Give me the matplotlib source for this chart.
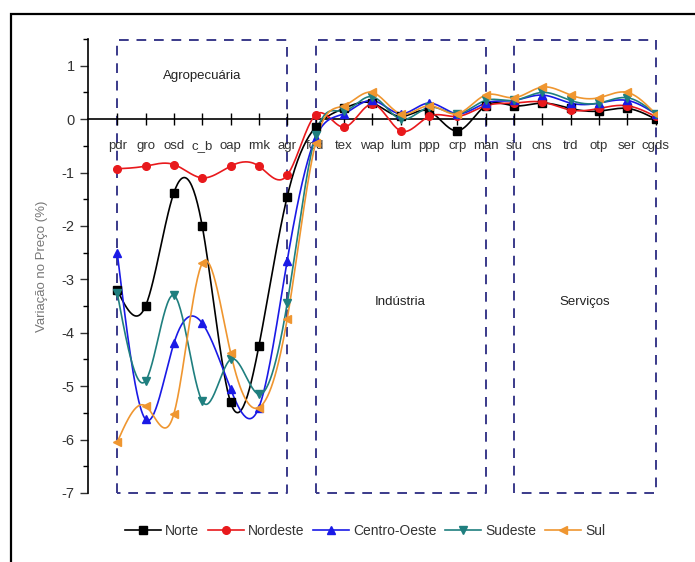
import numpy as np
import matplotlib
matplotlib.use("Agg")
import matplotlib.pyplot as plt
from matplotlib.patches import Rectangle

plt.rcParams["font.family"] = ["Liberation Sans", "DejaVu Sans"]
plt.rcParams["axes.unicode_minus"] = False

categories = ["pdr", "gro", "osd", "c_b", "oap", "rmk", "agr", "fod", "tex", "wap",
              "lum", "ppp", "crp", "man", "siu", "cns", "trd", "otp", "ser", "cgds"]

norte = [-3.2, -3.5, -1.38, -2.0, -5.3, -4.25, -1.45, -0.15, 0.2, 0.3,
         0.05, 0.15, -0.22, 0.25, 0.25, 0.3, 0.2, 0.15, 0.2, 0.0]
nordeste = [-0.93, -0.88, -0.85, -1.1, -0.88, -0.88, -1.05, 0.08, -0.15, 0.28,
            -0.22, 0.05, 0.05, 0.25, 0.3, 0.32, 0.17, 0.2, 0.25, 0.05]
centro_oeste = [-2.5, -5.62, -4.2, -3.82, -5.05, -5.4, -2.65, -0.35, 0.1, 0.35,
                0.1, 0.3, 0.1, 0.3, 0.35, 0.45, 0.3, 0.3, 0.35, 0.1]
sudeste = [-3.25, -4.9, -3.3, -5.28, -4.5, -5.15, -3.45, -0.3, 0.15, 0.42,
           0.0, 0.22, 0.1, 0.35, 0.35, 0.5, 0.35, 0.3, 0.4, 0.1]
sul = [-6.05, -5.37, -5.52, -2.7, -4.37, -5.4, -3.74, -0.45, 0.25, 0.5,
       0.1, 0.25, 0.1, 0.45, 0.4, 0.6, 0.45, 0.4, 0.5, 0.1]

series_names = ["Norte", "Nordeste", "Centro-Oeste", "Sudeste", "Sul"]
series_values = [norte, nordeste, centro_oeste, sudeste, sul]
colors = ["#000000", "#e8191c", "#1a1ae6", "#1f7f7f", "#ef9630"]
markers = ["s", "o", "^", "v", "<"]

group_names = ["Agropecuária", "Indústria", "Serviços"]
group_ranges = [(0, 6), (7, 13), (14, 19)]


def natural_spline(x, y, n=30):
    x = np.asarray(x, float)
    y = np.asarray(y, float)
    m = len(x)
    h = np.diff(x)
    A = np.zeros((m, m))
    b = np.zeros(m)
    A[0, 0] = 1
    A[-1, -1] = 1
    for i in range(1, m - 1):
        A[i, i - 1] = h[i - 1]
        A[i, i] = 2 * (h[i - 1] + h[i])
        A[i, i + 1] = h[i]
        b[i] = 6 * ((y[i + 1] - y[i]) / h[i] - (y[i] - y[i - 1]) / h[i - 1])
    M = np.linalg.solve(A, b)
    xs, ys = [], []
    for i in range(m - 1):
        t = np.linspace(x[i], x[i + 1], n, endpoint=(i == m - 2))
        a = x[i + 1] - t
        c = t - x[i]
        s = (M[i] * a ** 3 + M[i + 1] * c ** 3) / (6 * h[i]) \
            + (y[i] / h[i] - M[i] * h[i] / 6) * a \
            + (y[i + 1] / h[i] - M[i + 1] * h[i] / 6) * c
        xs.append(t)
        ys.append(s)
    return np.concatenate(xs), np.concatenate(ys)


W, H = 695, 562
fig = plt.figure(figsize=(W / 100, H / 100), dpi=100)
ax = fig.add_axes([88 / W, 1 - 493 / H, (657 - 88) / W, (493 - 39) / H])

x = np.arange(len(categories))

# group boxes
box_color = "#3a3a8a"
for (a, b_), name in zip(group_ranges, group_names):
    ax.plot([a, a, b_, b_, a], [-7, 1.48, 1.48, -7, -7], color=box_color,
            lw=1.4, dashes=(5, 4), zorder=1, clip_on=False)
ax.text(3, 0.8, group_names[0], ha="center", va="center", fontsize=9.5, color="#222222")
ax.text(10, -3.42, group_names[1], ha="center", va="center", fontsize=9.5, color="#222222")
ax.text(16.5, -3.42, group_names[2], ha="center", va="center", fontsize=9.5, color="#222222")

for name, vals, col, mk in zip(series_names, series_values, colors, markers):
    xs, ys = natural_spline(x, vals)
    ax.plot(xs, ys, color=col, lw=1.2, zorder=3)
    ax.plot(x, vals, ls="none", marker=mk, color=col, ms=5.5, zorder=4)
    ax.plot([], [], color=col, lw=1.2, marker=mk, ms=5.5, label=name)

ax.set_xlim(-1.03, 19.05)
ax.set_ylim(-7, 1.5)
ax.spines["top"].set_visible(False)
ax.spines["right"].set_visible(False)
ax.spines["bottom"].set_position(("data", 0))
ax.spines["left"].set_linewidth(1.2)
ax.spines["bottom"].set_linewidth(1.2)

ax.set_xticks(x)
ax.set_xticklabels(categories, fontsize=9.5, color="#333333")
ax.tick_params(axis="x", direction="inout", length=8, width=1, pad=11)
ax.set_yticks(np.arange(-7, 2, 1))
ax.set_yticks(np.arange(-6.5, 1.6, 1), minor=True)
ax.tick_params(axis="y", which="major", direction="out", length=6, width=1,
               labelsize=10.5, colors="#333333")
ax.tick_params(axis="y", which="minor", direction="out", length=3.5, width=1)
ax.set_ylabel("Variação no Preço (%)", fontsize=9.5, color="#777777", labelpad=10)

leg = fig.legend(loc="center", bbox_to_anchor=(365 / W, 1 - 531 / H), ncol=5,
                 frameon=False, fontsize=10, handlelength=2.6, columnspacing=0.6,
                 handletextpad=0.3)
for t in leg.get_texts():
    t.set_color("#333333")

fig.patches.append(Rectangle((11 / W, -0.2), 2, 1.2 - 14 / H, transform=fig.transFigure,
                             fill=False, lw=1.6, edgecolor="black"))

fig.savefig("out.png", dpi=100)
